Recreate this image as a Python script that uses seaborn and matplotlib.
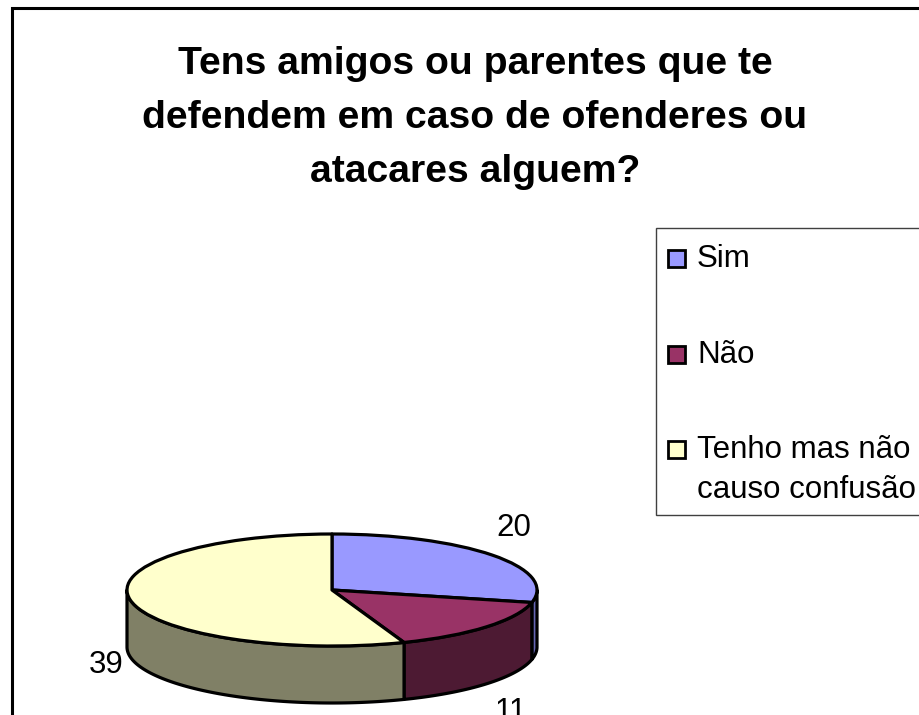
import numpy as np
import seaborn as sns
import matplotlib
matplotlib.use("Agg")
import matplotlib.pyplot as plt
from matplotlib.patches import Rectangle

sns.set_theme(style="white")
plt.rcParams['font.family'] = ['Liberation Sans', 'DejaVu Sans']

TITLE = "Tens amigos ou parentes que te\ndefendem em caso de ofenderes ou\natacares alguem?"
categories = ["Sim", "Não", "Tenho mas não\ncauso confusão"]
values = [20, 11, 39]
top_colors = ["#9999FF", "#993366", "#FFFFCC"]
side_colors = ["#6666B3", "#4D1A33", "#808066"]

W, H = 920, 715
CX, CY, RX, RY, DEPTH = 332, 590, 205, 56, 57
fig = plt.figure(figsize=(W / 100, H / 100), dpi=100, facecolor="white")
ax = fig.add_axes([0, 0, 1, 1])

LW = 2.3
vals = np.array(values, dtype=float)
edges = np.concatenate([[0], np.cumsum(vals)]) / vals.sum() * 2 * np.pi
d = DEPTH / RY

# side walls: only the front half (clockwise angle from top in [90deg, 270deg])
for a0, a1, c in zip(edges[:-1], edges[1:], side_colors):
    lo, hi = max(a0, np.pi / 2), min(a1, 3 * np.pi / 2)
    if lo >= hi:
        continue
    t = np.linspace(lo, hi, 120)
    x, y = np.sin(t), np.cos(t)
    ax.fill(np.r_[x, x[::-1]], np.r_[y, y[::-1] - d], facecolor=c,
            edgecolor="black", linewidth=LW, joinstyle="round", zorder=1)

wedges, _ = ax.pie(values, colors=top_colors, startangle=90, counterclock=False,
                   radius=1, center=(0, 0),
                   wedgeprops=dict(edgecolor="black", linewidth=LW, joinstyle="round", zorder=2))
for w in wedges:
    w.set_zorder(2)
ax.set_aspect("auto")
ax.set_xlim((0 - CX) / RX, (W - CX) / RX)
ax.set_ylim((CY - H) / RY, (CY - 0) / RY)
ax.set_axis_off()

def fx(p): return p / W
def fy(p): return 1 - p / H

def box(x0, y0, x1, y1, **kw):
    fig.add_artist(Rectangle((fx(x0), fy(y1)), (x1 - x0) / W, (y1 - y0) / H,
                             transform=fig.transFigure, **kw))

# outer frame (its right and bottom run past the picture)
box(12, 8, 970, 760, facecolor="none", edgecolor="black", linewidth=2.2, zorder=0)

fig.text(fx(475), fy(118), TITLE, ha="center", va="center", fontsize=28.2,
         fontweight="bold", color="black", linespacing=1.66)

label_pos = [(514, 528), (511, 712), (106, 665)]
for v, (px, py) in zip(values, label_pos):
    fig.text(fx(px), fy(py), str(v), ha="center", va="center", fontsize=22.5, color="black")

# legend: open-ended frame, swatches level with the first line of each entry
box(656, 228, 970, 515, facecolor="white", edgecolor="#404040", linewidth=1.0, zorder=3)
baselines = [267, 363, 458]
LINE_STEP = 40
for cat, col, base in zip(categories, top_colors, baselines):
    box(668, base - 17.5, 685.5, base - 0.5, facecolor=col, edgecolor="black", linewidth=2.0, zorder=4)
    for i, line in enumerate(cat.split("\n")):
        fig.text(fx(697), fy(base + i * LINE_STEP), line, ha="left", va="baseline",
                 fontsize=22.5, color="black", zorder=5)

fig.savefig("out.png", dpi=100)
